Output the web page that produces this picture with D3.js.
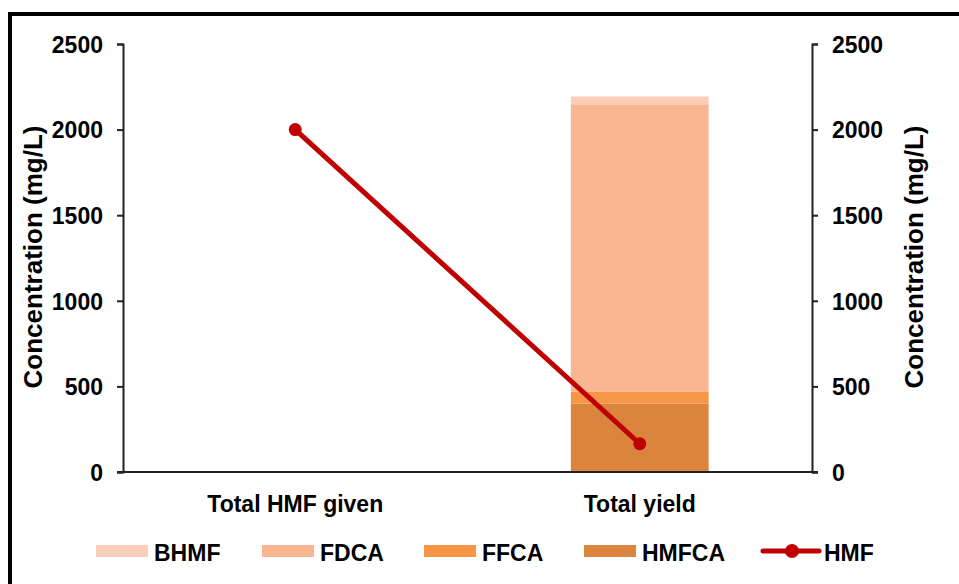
<!DOCTYPE html>
<html><head><meta charset="utf-8">
<script src="https://cdn.jsdelivr.net/npm/d3@7"></script>
<style>
body{margin:0;background:#fff;}
text{font-family:"Liberation Sans",Arial,sans-serif;font-weight:bold;fill:#000;}
</style></head>
<body><svg id="c" width="959" height="584"></svg>
<script>
const categories = ["Total HMF given", "Total yield"];
const seriesNames = ["HMFCA", "FFCA", "FDCA", "BHMF"];
const HMFCA = [0, 400];
const FFCA = [0, 68];
const FDCA = [0, 1680];
const BHMF = [0, 45];
const HMF = [2000, 165];
const yTicks = [0, 500, 1000, 1500, 2000, 2500];
const colors = {BHMF:"#FBCEB9", FDCA:"#F9B691", FFCA:"#F79646", HMFCA:"#DA843E", HMF:"#C00000"};

const svg = d3.select("#c");
const L = 123, R = 812, T = 44, B = 472;

// outer frame
svg.append("rect").attr("x",10).attr("y",14).attr("width",980).attr("height",600)
  .attr("fill","none").attr("stroke","#000").attr("stroke-width",4);

const x = d3.scaleBand().domain(categories).range([L,R]).paddingInner(0.6).paddingOuter(0.3);
const y = d3.scaleLinear().domain([0,2500]).range([B,T]);

const table = categories.map((c,i)=>({cat:c, HMFCA:HMFCA[i], FFCA:FFCA[i], FDCA:FDCA[i], BHMF:BHMF[i]}));
const stack = d3.stack().keys(seriesNames)(table);

svg.append("g").selectAll("g").data(stack).join("g")
  .attr("fill", d=>colors[d.key])
  .selectAll("rect").data(d=>d).join("rect")
  .attr("x", d=>x(d.data.cat)).attr("width", x.bandwidth())
  .attr("y", d=>y(d[1])).attr("height", d=>y(d[0])-y(d[1]));

// axes
const fmt = d3.format("d");
const axL = svg.append("g").attr("transform",`translate(${L},0)`)
  .call(d3.axisLeft(y).tickValues(yTicks).tickFormat(fmt).tickSize(6).tickPadding(14));
const axR = svg.append("g").attr("transform",`translate(${R},0)`)
  .call(d3.axisRight(y).tickValues(yTicks).tickFormat(fmt).tickSize(6).tickPadding(14));
const axB = svg.append("g").attr("transform",`translate(0,${B})`)
  .call(d3.axisBottom(x).tickSize(0).tickPadding(24));
[axL,axR,axB].forEach(a=>{
  a.selectAll("path,line").attr("stroke","#222").attr("stroke-width",2);
  a.selectAll("text").style("font-size","23px").style("font-family","'Liberation Sans',Arial,sans-serif").style("font-weight","bold").attr("fill","#000");
});
axB.select("path").attr("d",`M${L-6},0H${R+6}`);
axL.selectAll(".tick text").attr("dy","0.36em");
axR.selectAll(".tick text").attr("dy","0.36em");

// axis titles
svg.append("text").attr("transform",`translate(42,257) rotate(-90)`)
  .attr("text-anchor","middle").style("font-size","26px").text("Concentration (mg/L)");
svg.append("text").attr("transform",`translate(923,257) rotate(-90)`)
  .attr("text-anchor","middle").style("font-size","26px").text("Concentration (mg/L)");

// HMF line
const cx = d=>x(d.cat)+x.bandwidth()/2;
const pts = categories.map((c,i)=>({cat:c, v:HMF[i]}));
svg.append("path").datum(pts).attr("fill","none").attr("stroke",colors.HMF).attr("stroke-width",5)
  .attr("d", d3.line().x(cx).y(d=>y(d.v)));
svg.selectAll("circle.p").data(pts).join("circle").attr("class","p")
  .attr("cx",cx).attr("cy",d=>y(d.v)).attr("r",6.5).attr("fill",colors.HMF);

// legend
const legendItems = ["BHMF","FDCA","FFCA","HMFCA","HMF"];
const legX = [96, 262, 424, 584, 763];
const lg = svg.append("g");
legendItems.forEach((k,i)=>{
  const g = lg.append("g").attr("transform",`translate(${legX[i]},551)`);
  if(k==="HMF"){
    g.append("line").attr("x1",0).attr("x2",56).attr("y1",0).attr("y2",0).attr("stroke",colors.HMF).attr("stroke-width",5).attr("stroke-linecap","round");
    g.append("circle").attr("cx",29).attr("cy",0).attr("r",7).attr("fill",colors.HMF);
    g.append("text").attr("x",61).attr("y",10).style("font-size","23px").text(k);
  } else {
    g.append("rect").attr("x",0).attr("y",-6).attr("width",52).attr("height",12).attr("fill",colors[k]);
    g.append("text").attr("x",58).attr("y",10).style("font-size","23px").text(k);
  }
});
</script></body></html>
